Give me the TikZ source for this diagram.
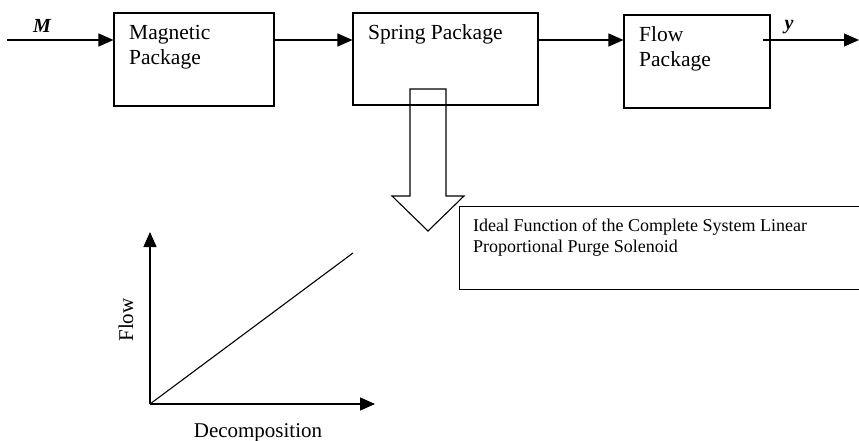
\documentclass[tikz,border=0pt]{standalone}
\usepackage{fontspec}
\setmainfont{Liberation Serif}
\usetikzlibrary{arrows.meta}
\begin{document}
\begin{tikzpicture}[x=1pt,y=-1pt,
  box/.style={draw, line width=1.1pt, inner sep=0pt},
  arr/.style={line width=1.1pt, -{Triangle[length=15pt,width=13pt]}},
  ln/.style={line width=1.1pt},
  lbl/.style={font=\fontsize{21.5}{25}\selectfont, anchor=base west, inner sep=0pt},
  sml/.style={font=\fontsize{18}{21}\selectfont, anchor=base west, inner sep=0pt},
  var/.style={font=\fontsize{20}{24}\selectfont\bfseries\itshape, anchor=base, inner sep=0pt},
  axl/.style={font=\fontsize{21}{25}\selectfont, anchor=base, inner sep=0pt}]
\useasboundingbox (0,0) rectangle (859,441);
% blocks
\node[box, minimum width=160pt, minimum height=93pt] (mag) at (194,59.5) {};
\node[box, minimum width=185pt, minimum height=92pt] (spring) at (445.5,59) {};
\node[box, minimum width=146pt, minimum height=93pt] (flow) at (697,61.5) {};
\node[box, minimum width=405pt, minimum height=83pt, anchor=north west] (ideal) at (459,206) {};
% block texts
\node[lbl] (t1) at (129,40) {Magnetic};
\node[lbl] (t2) at (129,65) {Package};
\node[lbl] (t3) at (368,40) {Spring Package};
\node[lbl] (t4) at (639,42) {Flow};
\node[lbl] (t5) at (639,67) {Package};
\node[sml] (t6) at (473,231) {Ideal Function of the Complete System Linear};
\node[sml] (t7) at (473,252) {Proportional Purge Solenoid};
% signal flow
\coordinate (min) at (7,40);
\coordinate (ys) at (763,40);
\coordinate (yout) at (859,40);
\draw[arr] (min) -- (mag.west |- min);
\draw[arr] (mag.east |- min) -- (spring.west |- min);
\draw[arr] (spring.east |- min) -- (flow.west |- min);
\draw[arr] (ys) -- (yout);
\node[var] (mlab) at (42,33) {M};
\node[var] (ylab) at (789,30) {y};
% block arrow
\draw[ln, line join=miter] (410,89) -- (410,196) -- (392,196) -- (428,231) -- (464,196) -- (446,196) -- (446,89) -- cycle;
% graph
\coordinate (o) at (150,404);
\coordinate (yt) at (150,232);
\coordinate (xt) at (375,404);
\coordinate (le) at (353,253);
\draw[arr] (o) -- (yt);
\draw[arr] (o) -- (xt);
\draw[ln] (o) -- (le);
\node[axl, rotate=90] (fl) at (133,320) {Flow};
\node[axl] (dc) at (258,437) {Decomposition};
\end{tikzpicture}
\end{document}
